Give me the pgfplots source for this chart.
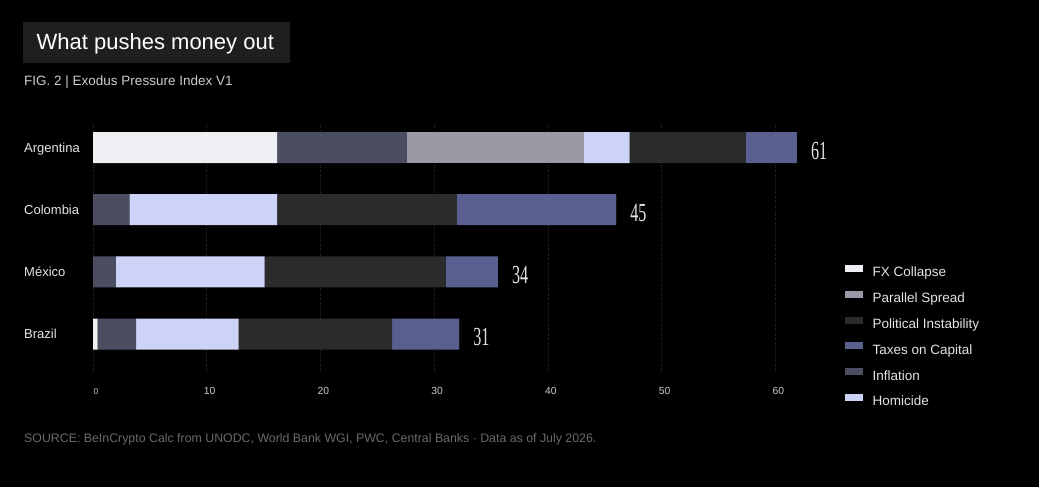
\documentclass[border=0pt]{standalone}
\usepackage{fontspec}
\setmainfont{Liberation Sans}
\newfontfamily\numfont[FakeStretch=0.62]{Liberation Serif}
\usepackage{pgfplots}
\pgfplotsset{compat=1.18}
\definecolor{fx}{HTML}{EDEFF2}
\definecolor{infl}{HTML}{4B4E61}
\definecolor{par}{HTML}{9C99A7}
\definecolor{hom}{HTML}{CDD3F7}
\definecolor{pol}{HTML}{2B2B2B}
\definecolor{tax}{HTML}{59608F}
\definecolor{titlebox}{HTML}{1F1F1F}
\definecolor{txt}{HTML}{E4E4E4}
\definecolor{ticktxt}{HTML}{CCCCCC}
\definecolor{srctxt}{HTML}{6A6A6A}
\definecolor{gridc}{HTML}{2E2E2E}
\begin{document}
\begin{tikzpicture}[x=1pt,y=1pt]
\fill[black] (0,0) rectangle (1039,487);
\fill[titlebox] (23,424) rectangle (290,465);
\node[anchor=base west, inner sep=0pt, text=white, font=\fontsize{22}{26}\selectfont] at (36.5,437) {What pushes money out};
\node[anchor=base west, inner sep=0pt, text=ticktxt, font=\fontsize{13.5}{16}\selectfont] at (24,401) {FIG. 2 | Exodus Pressure Index V1};
\node[anchor=base west, inner sep=0pt, text=srctxt, font=\fontsize{12.35}{14}\selectfont] at (24,44) {SOURCE: BeInCrypto Calc from UNODC, World Bank WGI, PWC, Central Banks · Data as of July 2026.};
\begin{axis}[
  at={(93pt,115pt)}, anchor=south west,
  scale only axis, width=705pt, height=247pt,
  xbar stacked, bar width=31pt,
  xmin=0, xmax=62, ymin=-0.362, ymax=3.608, y dir=reverse,
  clip=false,
  axis line style={draw=none}, major tick length=0pt,
  xtick={0,10,20,30,40,50,60},
  xticklabels={{\fontsize{8.5}{9}\selectfont 0},10,20,30,40,50,60},
  xmajorgrids,
  grid style={draw=gridc, line width=0.6pt, dash pattern=on 1pt off 1.5pt},
  xticklabel style={anchor=base, yshift=-22pt, xshift=3pt, inner sep=0pt, text=ticktxt, font=\fontsize{10.3}{12}\selectfont},
  ytick={0,1,2,3},
  yticklabels={Argentina,Colombia,México,Brazil},
  yticklabel style={anchor=base west, xshift=-69pt, yshift=-4.7pt, inner sep=0pt, text=txt, font=\fontsize{13}{15}\selectfont},
  every node near coord/.style={anchor=west, inner sep=0pt, xshift=14pt, yshift=-3pt, text=txt, font=\numfont\fontsize{26}{26}\selectfont},
  legend image code/.code={\fill[#1] (0pt,1pt) rectangle (19pt,9pt);},
  legend cell align=left,
  legend style={at={(1.0652,0.439)}, anchor=north west, draw=none, fill=none, inner sep=0pt,
    row sep=10.7pt, text=txt, font=\fontsize{13.5}{16}\selectfont,
    nodes={inner sep=0pt, text height=9.5pt, text depth=2.5pt},
    /tikz/every odd column/.append style={column sep=9pt}},
]
% stack order: FX, Inflation, Parallel, Homicide, Political, Taxes
\addplot[forget plot, fill=fx, draw=none] coordinates {(16.2,0) (0,1) (0,2) (0.4,3)};
\addplot[forget plot, fill=infl, draw=none] coordinates {(11.4,0) (3.2,1) (2.0,2) (3.4,3)};
\addplot[forget plot, fill=par, draw=none] coordinates {(15.6,0) (0,1) (0,2) (0,3)};
\addplot[forget plot, fill=hom, draw=none] coordinates {(4.0,0) (13.0,1) (13.1,2) (9.0,3)};
\addplot[forget plot, fill=pol, draw=none] coordinates {(10.2,0) (15.8,1) (15.9,2) (13.5,3)};
\addplot[forget plot, fill=tax, draw=none] coordinates {(4.5,0) (14.0,1) (4.6,2) (5.9,3)};
% near-zero segment carrying the total labels at the end of each bar
\addplot[forget plot, fill=tax, draw=none, nodes near coords, point meta=explicit symbolic]
  coordinates {(0.001,0) [61] (0.001,1) [45] (0.001,2) [34] (0.001,3) [31]};
\addlegendimage{fill=fx}
\addlegendimage{fill=par}
\addlegendimage{fill=pol}
\addlegendimage{fill=tax}
\addlegendimage{fill=infl}
\addlegendimage{fill=hom}
\legend{FX Collapse,Parallel Spread,Political Instability,Taxes on Capital,Inflation,Homicide}
\end{axis}
\end{tikzpicture}
\end{document}
